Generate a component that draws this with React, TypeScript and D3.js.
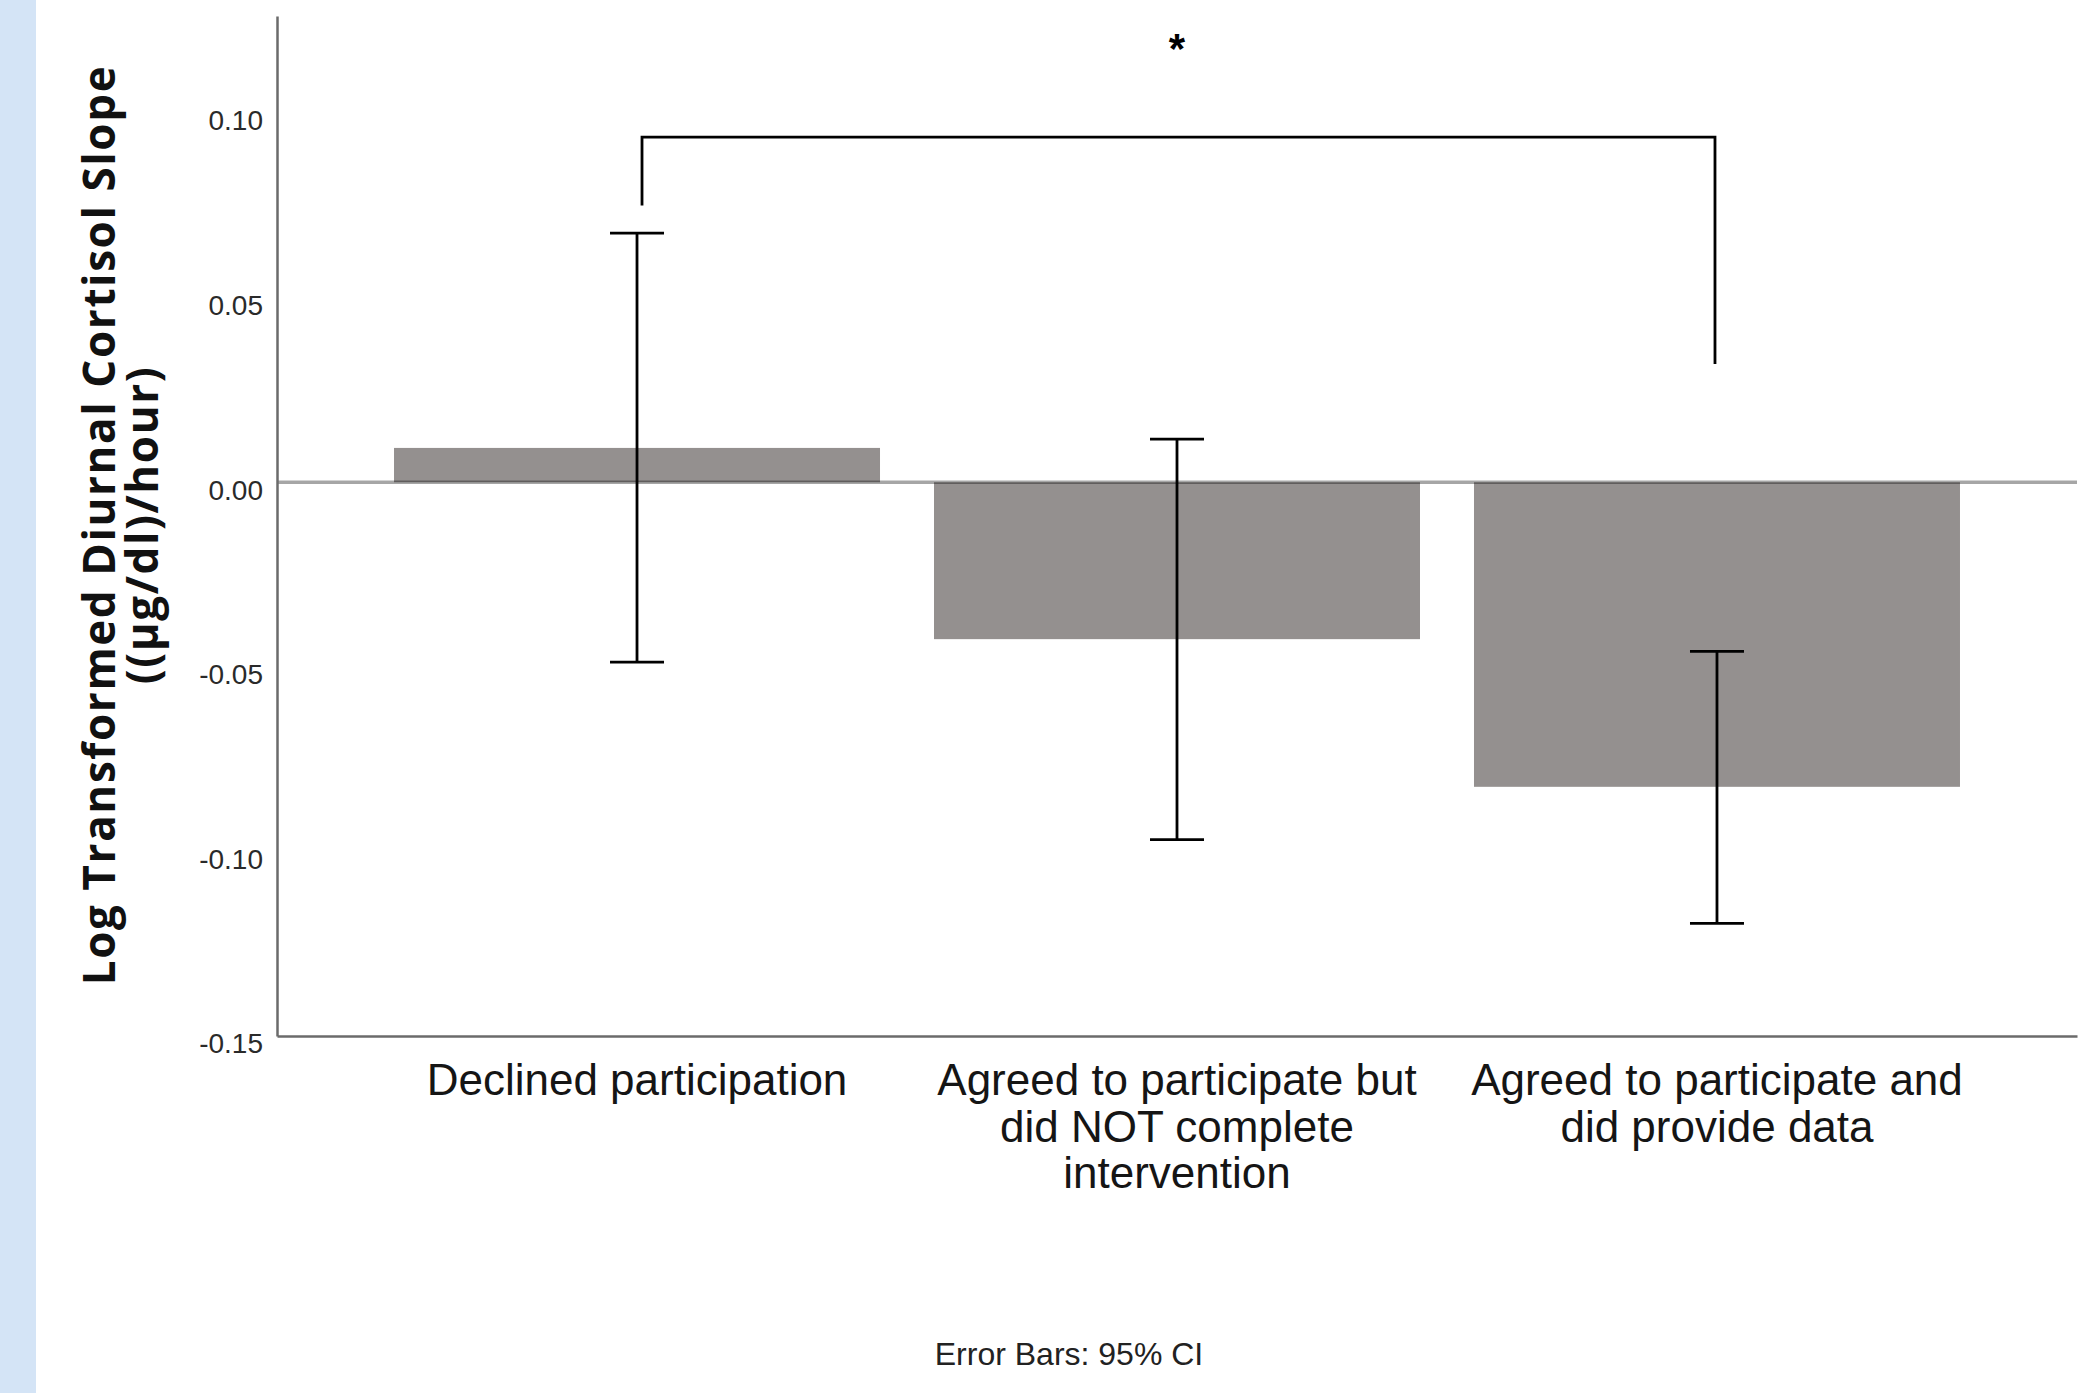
import React from 'react';
import * as d3 from 'd3';

// chart values
const categories = ['declined', 'agreedNotComplete', 'agreedProvided'];
const categoryLines = [
    ['Declined participation'],
    ['Agreed to participate but', 'did NOT complete', 'intervention'],
    ['Agreed to participate and', 'did provide data'],
];
const means = [0.0093, -0.0425, -0.0825];
const ciLow = [-0.0487, -0.0968, -0.1195];
const ciHigh = [0.0675, 0.0117, -0.0458];
const yTicks = [-0.15, -0.10, -0.05, 0.00, 0.05, 0.10];
const yDomain = [-0.15, 0.1263];

// significance bracket between first and last group
const bracketFrom = 0;
const bracketTo = 2;
const bracketTop = 0.0935;
const bracketLeftEnd = 0.075;
const bracketRightEnd = 0.032;
const bracketLabel = '*';

const yTitle = ['Log Transformed Diurnal Cortisol Slope', '((µg/dl)/hour)'];
const footnote = 'Error Bars: 95% CI';

const App = () => {
    const svgRef = React.useRef(null);

    const W = 2079;
    const H = 1393;
    const left = 277;
    const right = 2077;
    const top = 16;
    const bottom = 1036;

    React.useEffect(() => {
        const svg = d3.select(svgRef.current);
        svg.selectAll('*').remove();

        const x = d3.scaleBand().domain(categories).range([left, right]).paddingInner(0.1).paddingOuter(0.2167);
        const y = d3.scaleLinear().domain(yDomain).range([bottom, top]);

        // left blue strip of the page
        svg.append('rect').attr('x', 0).attr('y', 0).attr('width', 36).attr('height', H).attr('fill', '#d4e4f6');

        // bars
        svg.selectAll('.bar')
            .data(categories)
            .join('rect')
            .attr('class', 'bar')
            .attr('x', d => x(d))
            .attr('width', x.bandwidth())
            .attr('y', (d, i) => y(Math.max(0, means[i])))
            .attr('height', (d, i) => Math.abs(y(means[i]) - y(0)))
            .attr('fill', '#94908f');

        // zero reference line (see-through, so it darkens over the bar)
        svg.append('line')
            .attr('x1', left).attr('x2', right)
            .attr('y1', y(0)).attr('y2', y(0))
            .attr('stroke', '#000').attr('stroke-opacity', 0.35).attr('stroke-width', 3.5);

        // error bars
        const cap = 27;
        const eb = svg.selectAll('.err').data(categories).join('g').attr('class', 'err')
            .attr('stroke', '#000').attr('stroke-width', 2.8);
        eb.append('line')
            .attr('x1', d => x(d) + x.bandwidth() / 2).attr('x2', d => x(d) + x.bandwidth() / 2)
            .attr('y1', (d, i) => y(ciHigh[i])).attr('y2', (d, i) => y(ciLow[i]));
        eb.append('line')
            .attr('x1', d => x(d) + x.bandwidth() / 2 - cap).attr('x2', d => x(d) + x.bandwidth() / 2 + cap)
            .attr('y1', (d, i) => y(ciHigh[i])).attr('y2', (d, i) => y(ciHigh[i]));
        eb.append('line')
            .attr('x1', d => x(d) + x.bandwidth() / 2 - cap).attr('x2', d => x(d) + x.bandwidth() / 2 + cap)
            .attr('y1', (d, i) => y(ciLow[i])).attr('y2', (d, i) => y(ciLow[i]));

        // bracket
        const bx1 = x(categories[bracketFrom]) + x.bandwidth() / 2 + 5;
        const bx2 = x(categories[bracketTo]) + x.bandwidth() / 2 - 2;
        svg.append('path')
            .attr('d', `M${bx1},${y(bracketLeftEnd)}V${y(bracketTop)}H${bx2}V${y(bracketRightEnd)}`)
            .attr('fill', 'none').attr('stroke', '#000').attr('stroke-width', 2.8);
        svg.append('text')
            .attr('x', (x(categories[1]) + x.bandwidth() / 2))
            .attr('y', 63)
            .attr('text-anchor', 'middle')
            .attr('font-family', 'Liberation Sans, Arial, sans-serif')
            .attr('font-weight', 'bold')
            .attr('font-size', 42)
            .attr('fill', '#000')
            .text(bracketLabel);

        // y axis
        const yAxis = d3.axisLeft(y).tickValues(yTicks).tickSize(0).tickPadding(14)
            .tickFormat(v => v.toFixed(2));
        const yG = svg.append('g').attr('transform', `translate(${left},0)`).call(yAxis);
        yG.select('.domain').attr('stroke', '#6b6b6b').attr('stroke-width', 2.5);
        yG.selectAll('text')
            .attr('font-family', 'Liberation Sans, Arial, sans-serif')
            .attr('font-size', 28)
            .attr('fill', '#2a2a2a')
            .attr('dy', '0.6em');

        // x axis
        const xAxis = d3.axisBottom(x).tickSize(0).tickFormat(() => '');
        const xG = svg.append('g').attr('transform', `translate(0,${bottom})`).call(xAxis);
        xG.select('.domain').attr('stroke', '#6b6b6b').attr('stroke-width', 2.5);

        // category labels
        const labels = svg.selectAll('.cat').data(categories).join('text').attr('class', 'cat')
            .attr('text-anchor', 'middle')
            .attr('font-family', 'Liberation Sans, Arial, sans-serif')
            .attr('font-size', 44)
            .attr('fill', '#151515');
        labels.each(function (d, i) {
            const t = d3.select(this);
            categoryLines[i].forEach((line, j) => {
                t.append('tspan')
                    .attr('x', x(d) + x.bandwidth() / 2)
                    .attr('y', 1095 + j * 46.5)
                    .text(line);
            });
        });

        // y axis title
        yTitle.forEach((line, j) => {
            svg.append('text')
                .attr('transform', `translate(${115 + j * 43},${525}) rotate(-90)`)
                .attr('text-anchor', 'middle')
                .attr('font-family', 'Open Sans, sans-serif')
                .attr('font-weight', 'bold')
                .attr('font-size', 44)
                .attr('letter-spacing', 1.6)
                .attr('fill', '#111')
                .text(line);
        });

        // footnote
        svg.append('text')
            .attr('x', 1069).attr('y', 1365)
            .attr('text-anchor', 'middle')
            .attr('font-family', 'Liberation Sans, Arial, sans-serif')
            .attr('font-size', 32)
            .attr('fill', '#222')
            .text(footnote);
    }, []);

    return (
        <div style={{ position: 'absolute', left: 0, top: 0, background: '#fff' }}>
            <svg ref={svgRef} width={W} height={H} style={{ display: 'block' }}></svg>
        </div>
    );
};

export default App;
